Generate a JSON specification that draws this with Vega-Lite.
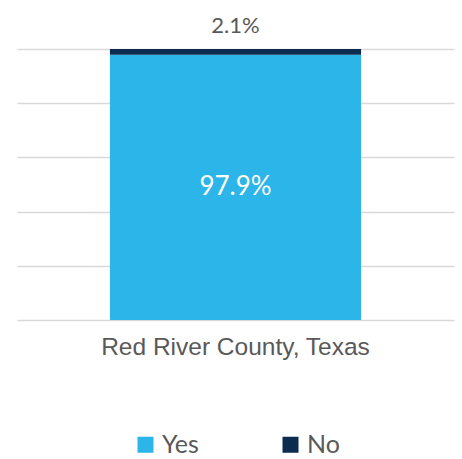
{
  "$schema": "https://vega.github.io/schema/vega-lite/v6.json",
  "width": 437,
  "height": 271,
  "autosize": "none",
  "padding": {"left": 17, "top": 49, "right": 8, "bottom": 139},
  "background": "white",
  "data": {"values": [
    {"county": "Red River County, Texas", "answer": "Yes", "pct": 97.9, "label": "97.9%", "ord": 1},
    {"county": "Red River County, Texas", "answer": "No", "pct": 2.1, "label": "2.1%", "ord": 2}
  ]},
  "transform": [
    {"stack": "pct", "groupby": ["county"], "sort": [{"field": "ord"}], "as": ["y0", "y1"]},
    {"calculate": "(datum.y0 + datum.y1) / 2", "as": "ymid"}
  ],
  "encoding": {
    "x": {"field": "county", "type": "nominal", "title": null,
      "scale": {"paddingInner": 0, "paddingOuter": 0.37},
      "axis": {"domain": false, "ticks": false, "labelAngle": 0, "labelLimit": 0, "labelFont": "Liberation Sans", "labelFontSize": 24.5, "labelColor": "#595959", "labelPadding": 15}}
  },
  "layer": [
    {
      "mark": {"type": "bar"},
      "encoding": {
        "y": {"field": "y0", "type": "quantitative", "scale": {"domain": [0, 100]}, "title": null,
          "axis": {"values": [0, 20, 40, 60, 80, 100], "labels": false, "ticks": false, "domain": false, "grid": true, "gridColor": "#d9d9d9", "gridWidth": 1.5}},
        "y2": {"field": "y1"},
        "color": {"field": "answer", "type": "nominal",
          "scale": {"domain": ["Yes", "No"], "range": ["#2cb5e8", "#0b2c4f"]},
          "legend": {"title": null, "orient": "none", "legendX": 116, "legendY": 383, "direction": "horizontal", "symbolType": "square", "symbolSize": 256, "symbolStrokeWidth": 0, "labelFont": "Lato", "labelFontSize": 25, "labelColor": "#595959", "columnPadding": 79, "labelOffset": 4}}
      }
    },
    {
      "transform": [{"filter": "datum.answer == 'Yes'"}],
      "mark": {"type": "text", "color": "white", "font": "Lato", "fontSize": 26, "baseline": "middle"},
      "encoding": {
        "y": {"field": "ymid", "type": "quantitative"},
        "text": {"field": "label"}
      }
    },
    {
      "transform": [{"filter": "datum.answer == 'No'"}],
      "mark": {"type": "text", "color": "#595959", "font": "Lato", "fontSize": 22, "baseline": "bottom", "dy": -11},
      "encoding": {
        "y": {"field": "y1", "type": "quantitative"},
        "text": {"field": "label"}
      }
    }
  ],
  "config": {"view": {"stroke": null}}
}
